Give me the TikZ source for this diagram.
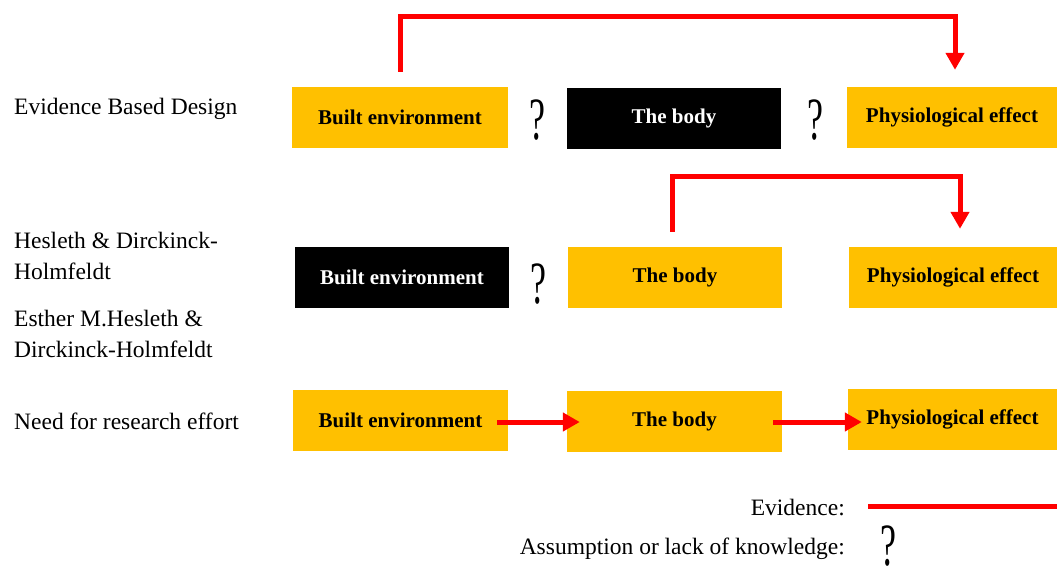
\documentclass[tikz,border=0pt]{standalone}
\usepackage{fontspec}
\setmainfont{Liberation Serif}
\usetikzlibrary{arrows.meta}
\definecolor{boxorange}{HTML}{FFC000}
\definecolor{evred}{HTML}{FF0000}
\tikzset{
  obox/.style={fill=boxorange, draw=none, minimum height=61pt, inner sep=0pt, font=\fontsize{21}{24}\selectfont\bfseries, text=black},
  bbox/.style={fill=black, draw=none, minimum height=61pt, inner sep=0pt, font=\fontsize{21}{24}\selectfont\bfseries, text=white},
  lefttext/.style={anchor=west, inner sep=0pt, align=left, font=\fontsize{23.5}{31.5}\selectfont},
  qmark/.style={inner sep=0pt, font=\fontsize{60}{62}\selectfont, xscale=0.6, transform shape},
  evid/.style={draw=evred, line width=5pt, -{Triangle[width=18pt,length=17pt]}},
  evidline/.style={draw=evred, line width=5pt},
}
\begin{document}
\begin{tikzpicture}[x=1pt,y=-1pt]
\useasboundingbox (0,0) rectangle (1057,574);
% Row 1
\node[obox, minimum width=216pt] (be1) at (400,117.5) {Built environment};
\node[bbox, minimum width=214pt] (bd1) at (674,118) {The body};
\node[obox, minimum width=210pt] (pe1) at (952,117.5) {Physiological effect};
\node[qmark] (q1a) at (537,120) {?};
\node[qmark] (q1b) at (815,120) {?};
\node[lefttext] (t1) at (14,109) {Evidence Based Design};
% Row 2
\node[bbox, minimum width=214pt] (be2) at (402,277.5) {Built environment};
\node[obox, minimum width=214pt] (bd2) at (675,277.5) {The body};
\node[obox, minimum width=208pt] (pe2) at (953,277.5) {Physiological effect};
\node[qmark] (q2a) at (538,284) {?};
\node[lefttext] (t2) at (14,256) {Hesleth \& Dirckinck-\\Holmfeldt};
\node[lefttext] (t3) at (14,334) {Esther M.Hesleth \&\\Dirckinck-Holmfeldt};
% Row 3
\node[obox, minimum width=215pt] (be3) at (400.5,420.5) {Built environment};
\node[obox, minimum width=215pt] (bd3) at (674.5,421.5) {The body};
\node[obox, minimum width=209pt] (pe3) at (952.5,419.5) {Physiological effect};
\node[lefttext] (t4) at (14,421) {Need for research effort};
% Evidence arrows
\draw[evid] ([yshift=15pt]be1.north) -- ++(0,-55) -| ([xshift=3pt,yshift=17pt]pe1.north);
\draw[evid] ([xshift=-3pt,yshift=15pt]bd2.north) -- ++(0,-55) -| ([xshift=7pt,yshift=18pt]pe2.north);
\draw[evid] ([xshift=-11pt,yshift=-1.5pt]be3.east) -- ([xshift=13pt,yshift=-1.5pt]bd3.west |- be3.east);
\draw[evid] ([xshift=-9pt,yshift=-0.5pt]bd3.east) -- ([xshift=14pt,yshift=-0.5pt]pe3.west |- bd3.east);
% Legend
\node[anchor=east, inner sep=0pt, font=\fontsize{23.5}{28}\selectfont] (l1) at (845,508) {Evidence:};
\node[anchor=east, inner sep=0pt, font=\fontsize{23.5}{28}\selectfont] (l2) at (845,549) {Assumption or lack of knowledge:};
\coordinate (le1) at (868,506);
\coordinate (le2) at (1057,506);
\draw[evidline] (le1) -- (le2);
\node[qmark] (q3) at (888,546) {?};
\end{tikzpicture}
\end{document}
